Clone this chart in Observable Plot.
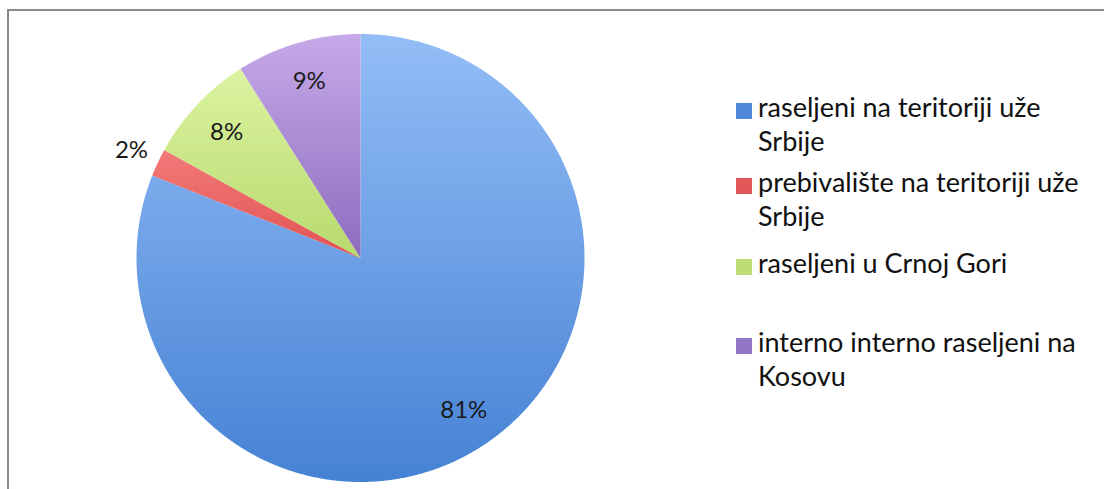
<!DOCTYPE html>
<html><head><meta charset="utf-8">
<script src="https://cdn.jsdelivr.net/npm/d3@7"></script>
<script src="https://cdn.jsdelivr.net/npm/@observablehq/plot@0.6"></script>
<style>
body{margin:0;background:#fff;font-family:Lato, sans-serif;}
#wrap{position:relative;width:1104px;height:489px;overflow:hidden;background:#fff;}
#frame{position:absolute;left:7px;top:9px;width:1300px;height:700px;border:2px solid #8a8a8a;box-sizing:border-box;}
#chart{position:absolute;left:0;top:0;}
.item{position:absolute;left:736px;font-size:27px;line-height:34px;color:#111;}
.sw{position:absolute;left:0;top:13px;width:16px;height:16px;}
.tx{position:absolute;left:22px;top:0;width:345px;}
</style></head><body>
<div id="wrap"><div id="frame"></div><div id="chart"></div><div id="legend"></div></div>
<script>
const categories = [
  "raseljeni na teritoriji uže Srbije",
  "prebivalište na teritoriji uže Srbije",
  "raseljeni u Crnoj Gori",
  "interno interno raseljeni na Kosovu"
];
const values = [81, 2, 8, 9];
const valueLabels = ["81%", "2%", "8%", "9%"];
const colorsTop = ["#93bdf6", "#f27a79", "#dcf3a2", "#c6a9e8"];
const colorsBottom = ["#4682d4", "#e05252", "#b7da6c", "#8d6cbf"];
const legendColors = ["#4f88d8", "#e2585a", "#bcdc74", "#9276c6"];
const legendTops = [90, 165, 246, 325];

const W = 1104, H = 489;
const cx = 360, cy = 257.5, R = 224;

const pie = d3.pie().sort(null).value(d => d.value);
const data = categories.map((c, i) => ({category: c, value: values[i], label: valueLabels[i], i}));
const arcs = pie(data);

const slices = arcs.map(a => {
  const pts = [{x: 0, y: 0}];
  const n = Math.max(2, Math.ceil((a.endAngle - a.startAngle) / 0.005));
  for (let k = 0; k <= n; k++) {
    const t = a.startAngle + (a.endAngle - a.startAngle) * k / n;
    pts.push({x: Math.sin(t), y: Math.cos(t)});
  }
  pts.push({x: 0, y: 0});
  return pts;
});
const labelPts = arcs.map(a => {
  const m = (a.startAngle + a.endAngle) / 2;
  const r = a.data.value < 5 ? 1.13 : 0.82;
  return {x: r * Math.sin(m), y: r * Math.cos(m), label: a.data.label};
});

const plot = Plot.plot({
  width: W, height: H,
  margin: 0,
  x: {domain: [-cx / R, (W - cx) / R], axis: null},
  y: {domain: [(cy - H) / R, cy / R], axis: null},
  marks: [
    ...slices.map((pts, i) => Plot.line(pts, {x: "x", y: "y", fill: `url(#grad${i})`, stroke: "none", curve: "linear"})),
    Plot.text(labelPts, {x: "x", y: "y", text: "label", fontSize: 24, fill: "#1a1a1a", fontFamily: "Lato"})
  ]
});
plot.style.background = "transparent";
const svg = d3.select(plot);
const defs = svg.insert("defs", ":first-child");
colorsTop.forEach((c, i) => {
  const g = defs.append("linearGradient").attr("id", "grad" + i).attr("x1", 0).attr("y1", 0).attr("x2", 0).attr("y2", 1);
  g.append("stop").attr("offset", "0%").attr("stop-color", c);
  g.append("stop").attr("offset", "100%").attr("stop-color", colorsBottom[i]);
});
document.getElementById("chart").appendChild(plot);

const legend = document.getElementById("legend");
categories.forEach((c, i) => {
  const it = document.createElement("div");
  it.className = "item";
  it.style.top = legendTops[i] + "px";
  const sw = document.createElement("div");
  sw.className = "sw";
  sw.style.background = legendColors[i];
  const tx = document.createElement("div");
  tx.className = "tx";
  tx.textContent = c;
  it.appendChild(sw); it.appendChild(tx);
  legend.appendChild(it);
});
</script>
</body></html>
